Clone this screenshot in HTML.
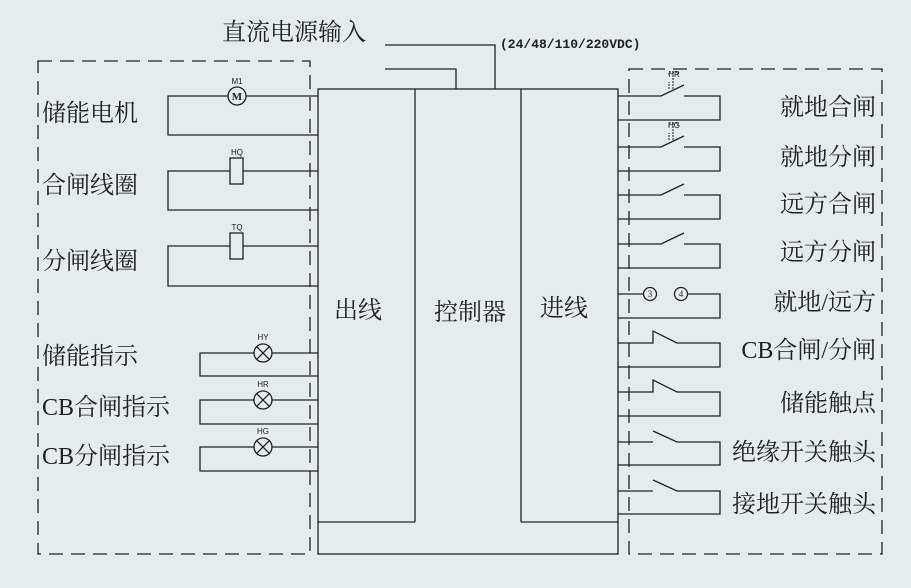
<!DOCTYPE html>
<html><head><meta charset="utf-8"><style>
html,body{margin:0;padding:0;background:#e3ecef;}
svg{display:block}
text{font-family:"Liberation Serif","Noto Serif CJK SC",serif;fill:#222;}
.t{font-size:24px}
.s{font-size:8px;font-family:"Liberation Sans",sans-serif}
</style></head><body>
<svg width="911" height="588" viewBox="0 0 911 588" xmlns="http://www.w3.org/2000/svg">
<rect width="911" height="588" fill="#e3ecef"/>
<g fill="none" stroke="#222" stroke-width="1.3">
<rect x="38" y="61" width="272" height="493" stroke-dasharray="14,8"/>
<rect x="629" y="69" width="253" height="485" stroke-dasharray="14,8"/>
<rect x="318" y="89" width="300" height="465"/>
<line x1="415" y1="89" x2="415" y2="522"/>
<line x1="521" y1="89" x2="521" y2="522"/>
<line x1="318" y1="522" x2="415" y2="522"/>
<line x1="521" y1="522" x2="618" y2="522"/>
<polyline points="385,45 495,45 495,89"/>
<polyline points="385,69 456,69 456,89"/>
<polyline points="318,96 246,96"/><polyline points="228,96 168,96 168,135 318,135"/>
<circle cx="237" cy="96" r="9"/>
<polyline points="318,171 243,171"/><polyline points="230,171 168,171 168,210 318,210"/>
<rect x="230" y="158" width="13" height="26"/>
<polyline points="318,246 243,246"/><polyline points="230,246 168,246 168,286 318,286"/>
<rect x="230" y="233" width="13" height="26"/>
<polyline points="318,353 272,353"/><polyline points="254,353 200,353 200,376 318,376"/>
<circle cx="263" cy="353" r="9"/><path d="M256.6 346.6L269.4 359.4M269.4 346.6L256.6 359.4"/>
<polyline points="318,400 272,400"/><polyline points="254,400 200,400 200,424 318,424"/>
<circle cx="263" cy="400" r="9"/><path d="M256.6 393.6L269.4 406.4M269.4 393.6L256.6 406.4"/>
<polyline points="318,447 272,447"/><polyline points="254,447 200,447 200,471 318,471"/>
<circle cx="263" cy="447" r="9"/><path d="M256.6 440.6L269.4 453.4M269.4 440.6L256.6 453.4"/>
<polyline points="618,96 661,96 684,85"/><polyline points="684,96 720,96 720,120 618,120"/>
<path d="M669 89 V82 M669 75 V72 H678 V75 M673 72 V90" stroke-width="1" stroke-dasharray="2,1"/>
<polyline points="618,147 661,147 684,136"/><polyline points="684,147 720,147 720,171 618,171"/>
<path d="M669 140 V133 M669 126 V123 H678 V126 M673 123 V141" stroke-width="1" stroke-dasharray="2,1"/>
<polyline points="618,195 661,195 684,184"/><polyline points="684,195 720,195 720,219 618,219"/>
<polyline points="618,244 661,244 684,233"/><polyline points="684,244 720,244 720,268 618,268"/>
<polyline points="618,294 643,294"/><circle cx="650" cy="294" r="6.5"/>
<circle cx="681" cy="294" r="6.5"/><polyline points="688,294 720,294 720,318 618,318"/>
<polyline points="618,343 653,343 653,331 677,343 720,343 720,367 618,367"/>
<polyline points="618,392 653,392 653,380 677,392 720,392 720,416 618,416"/>
<polyline points="618,442 653,442"/><polyline points="653,431 677,442 720,442 720,465 618,465"/>
<polyline points="618,491 653,491"/><polyline points="653,480 677,491 720,491 720,514 618,514"/>
</g>
<text x="237" y="100" font-size="11" font-weight="bold" text-anchor="middle" style="font-family:'Liberation Serif',serif">M</text>
<text x="650" y="297" font-size="9" text-anchor="middle">3</text>
<text x="681" y="297" font-size="9" text-anchor="middle">4</text>
<text class="s" x="237" y="84" text-anchor="middle">M1</text>
<text class="s" x="237" y="155" text-anchor="middle">HQ</text>
<text class="s" x="237" y="230" text-anchor="middle">TQ</text>
<text class="s" x="263" y="340" text-anchor="middle">HY</text>
<text class="s" x="263" y="387" text-anchor="middle">HR</text>
<text class="s" x="263" y="434" text-anchor="middle">HG</text>
<text class="s" x="674" y="77" text-anchor="middle">HR</text>
<text class="s" x="674" y="128" text-anchor="middle">HG</text>
<text class="t" x="222" y="40">直流电源输入</text>
<text x="500" y="48" font-size="13" font-weight="bold" style="font-family:'Liberation Mono',monospace">(24/48/110/220VDC)</text>
<text class="t" x="42" y="121">储能电机</text>
<text class="t" x="42" y="193">合闸线圈</text>
<text class="t" x="42" y="269">分闸线圈</text>
<text class="t" x="42" y="364">储能指示</text>
<text class="t" x="42" y="415">CB合闸指示</text>
<text class="t" x="42" y="464">CB分闸指示</text>
<text class="t" x="334" y="318">出线</text>
<text class="t" x="434" y="320">控制器</text>
<text class="t" x="540" y="316">进线</text>
<g text-anchor="end">
<text class="t" x="876" y="115">就地合闸</text>
<text class="t" x="876" y="165">就地分闸</text>
<text class="t" x="876" y="212">远方合闸</text>
<text class="t" x="876" y="260">远方分闸</text>
<text class="t" x="876" y="310">就地/远方</text>
<text class="t" x="876" y="358">CB合闸/分闸</text>
<text class="t" x="876" y="411">储能触点</text>
<text class="t" x="876" y="460">绝缘开关触头</text>
<text class="t" x="876" y="512">接地开关触头</text>
</g>
</svg>
</body></html>
